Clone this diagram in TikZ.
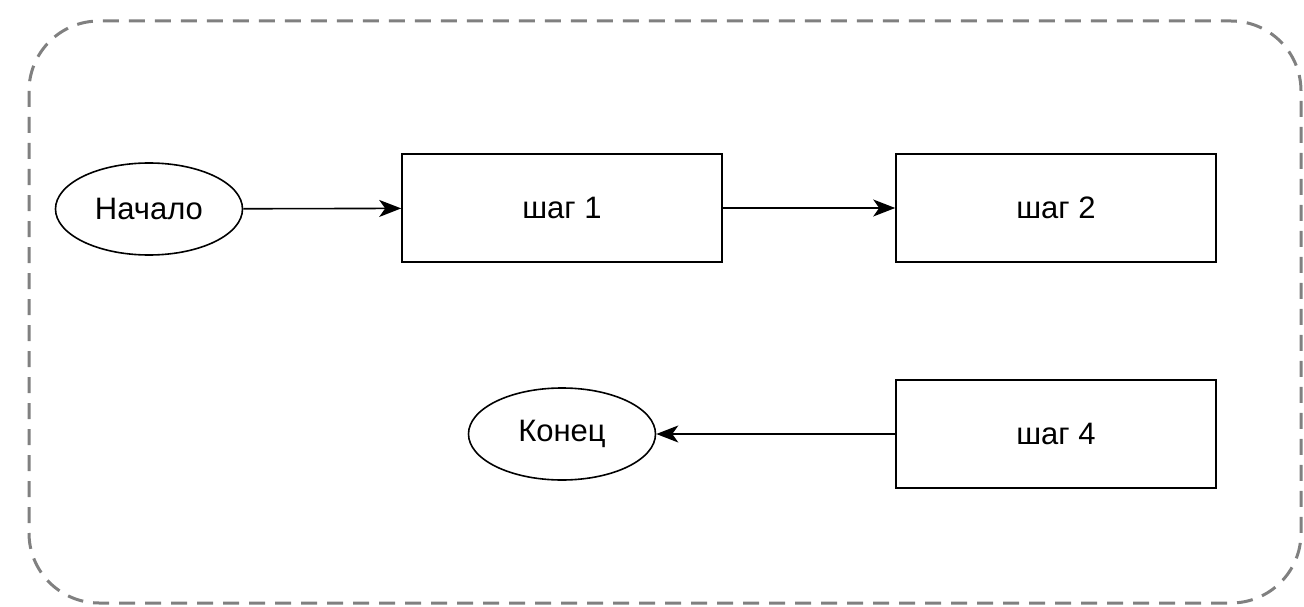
\documentclass[tikz,border=0pt]{standalone}
\usepackage{fontspec}
\setmainfont{Liberation Sans}
\usetikzlibrary{arrows.meta}
\usetikzlibrary{shapes.geometric}
\tikzset{
  stepbox/.style={draw, line width=1.6pt, minimum width=320pt, minimum height=108pt, inner sep=0pt},
  terminal/.style={draw, ellipse, line width=1.6pt, minimum width=187pt, minimum height=92pt, inner sep=0pt},
  flow/.style={line width=1.6pt, -{Stealth[length=22pt, width=17pt, inset=6pt]}}
}

\begin{document}
\begin{tikzpicture}[x=1pt, y=-1pt, font=\fontsize{31}{36}\selectfont]
\useasboundingbox (0,0) rectangle (1304,607);
% frame
\draw[gray, line width=3pt, dash pattern=on 16pt off 10pt, rounded corners=70pt] (29,21) rectangle (1301,603);
% nodes
\node[terminal] (start) at (149,209) {Начало};
\node[stepbox] (s1) at (562,208) {шаг 1};
\node[stepbox] (s2) at (1056,208) {шаг 2};
\node[stepbox] (s4) at (1056,434) {шаг 4};
\node[terminal] (stop) at (562,434) {Конец};
% connectors
\draw[flow] (start) -- (s1);
\draw[flow] (s1) -- (s2);
\draw[flow] (s4) -- (stop);
\end{tikzpicture}
\end{document}
